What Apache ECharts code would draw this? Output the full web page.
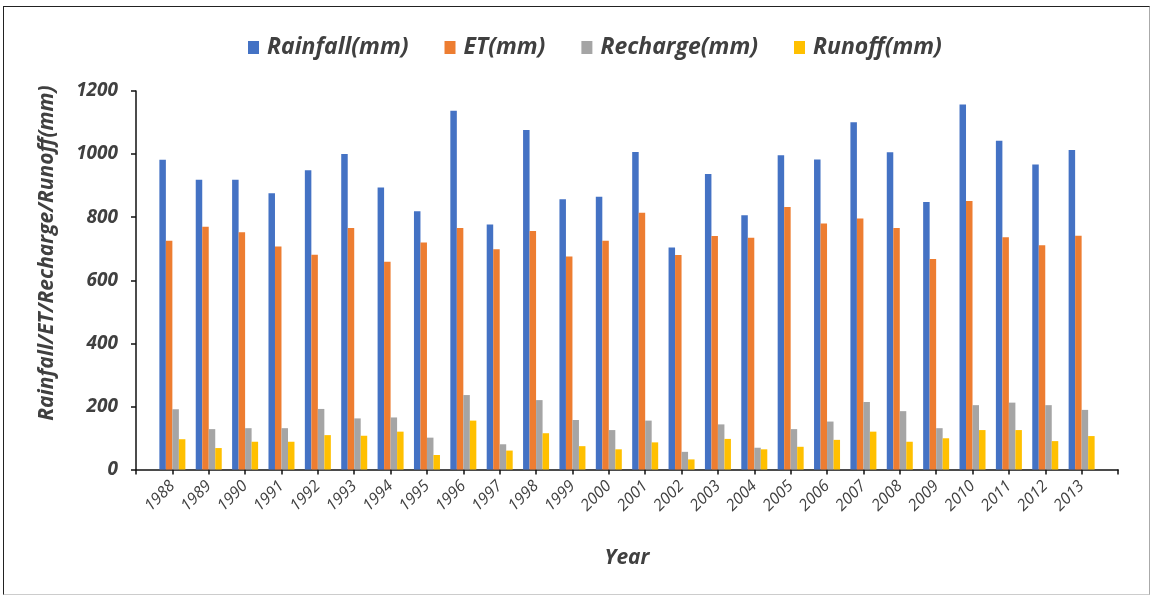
<!DOCTYPE html>
<html>
<head>
<meta charset="utf-8">
<script src="https://cdn.jsdelivr.net/npm/echarts@6/dist/echarts.min.js"></script>
<style>
html,body{margin:0;padding:0;background:#fff;}
#frame{position:absolute;left:3px;top:6px;width:1147px;height:589px;border-top:1.5px solid #222;border-left:1.5px solid #222;border-right:1px solid #aaa;border-bottom:1px solid #ccc;box-sizing:border-box;}
#chart{position:absolute;left:0;top:0;width:1156px;height:599px;}
</style>
</head>
<body>
<div id="frame"></div>
<div id="chart"></div>
<script>
const years = ['1988','1989','1990','1991','1992','1993','1994','1995','1996','1997','1998','1999','2000','2001','2002','2003','2004','2005','2006','2007','2008','2009','2010','2011','2012','2013'];
const rainfall = [982,919,919,876,949,1000,894,819,1137,777,1076,857,865,1007,704,937,806,996,983,1101,1006,848,1157,1042,967,1013];
const et = [725,770,752,707,681,766,659,720,766,698,756,675,725,814,680,740,735,832,780,796,766,667,851,736,711,741];
const recharge = [191,128,131,131,192,162,165,101,236,80,220,157,125,155,56,143,69,128,152,214,185,131,204,212,204,189];
const runoff = [96,68,88,88,109,107,120,46,155,60,115,74,64,86,32,97,64,72,94,120,88,99,125,125,90,106];
const yTicks = [0,200,400,600,800,1000,1200];

const pad = arr => [null].concat(arr, [null]);
const cats = [''].concat(years, ['']);
const FONT = '"Open Sans", Lato, sans-serif';
const TXT = '#404040';

const chart = echarts.init(document.getElementById('chart'));
const mk = (name, data, color) => ({
  name, type: 'bar', data: pad(data), barWidth: 6.5, barGap: '0%',
  itemStyle: { color }
});
chart.setOption({
  animation: false,
  textStyle: { fontFamily: FONT },
  legend: {
    top: 31, left: 243, itemGap: 36, itemWidth: 11, itemHeight: 13, icon: 'rect',
    textStyle: { fontSize: 23, fontStyle: 'italic', fontWeight: 'bold', color: TXT, fontFamily: FONT, padding: [0, 0, 0, 3] }
  },
  grid: { left: 136, right: 38, top: 91, bottom: 129.5, containLabel: false },
  graphic: [{
    type: 'text', x: 47, y: 253, rotation: Math.PI / 2,
    style: { text: 'Rainfall/ET/Recharge/Runoff(mm)', fontFamily: FONT, fontSize: 21, fontStyle: 'italic',
      fontWeight: 'bold', fill: TXT, align: 'center', verticalAlign: 'middle' }
  }],
  xAxis: {
    type: 'category', data: cats, boundaryGap: false,
    name: 'Year', nameLocation: 'middle', nameGap: 78,
    nameTextStyle: { fontSize: 21, fontStyle: 'italic', fontWeight: 'bold', color: TXT },
    axisLine: { lineStyle: { color: '#111', width: 1.5 } },
    axisTick: { show: true, length: 5, lineStyle: { color: '#111', width: 1.5 } },
    axisLabel: { interval: 0, rotate: 45, fontSize: 16, fontStyle: 'italic', color: TXT, margin: 14 },
    splitLine: { show: false }
  },
  yAxis: {
    type: 'value', min: 0, max: 1200, interval: 200,
    axisLine: { show: true, lineStyle: { color: '#111', width: 1.5 } },
    axisTick: { show: true, length: 5, lineStyle: { color: '#111', width: 1.5 } },
    axisLabel: { fontSize: 19, fontStyle: 'italic', fontWeight: 'bold', color: TXT, margin: 18,
      formatter: v => yTicks.includes(v) ? String(v) : '' },
    splitLine: { show: false }
  },
  series: [
    mk('Rainfall(mm)', rainfall, '#4472C4'),
    mk('ET(mm)', et, '#ED7D31'),
    mk('Recharge(mm)', recharge, '#A5A5A5'),
    mk('Runoff(mm)', runoff, '#FFC000')
  ]
});
</script>
</body>
</html>
